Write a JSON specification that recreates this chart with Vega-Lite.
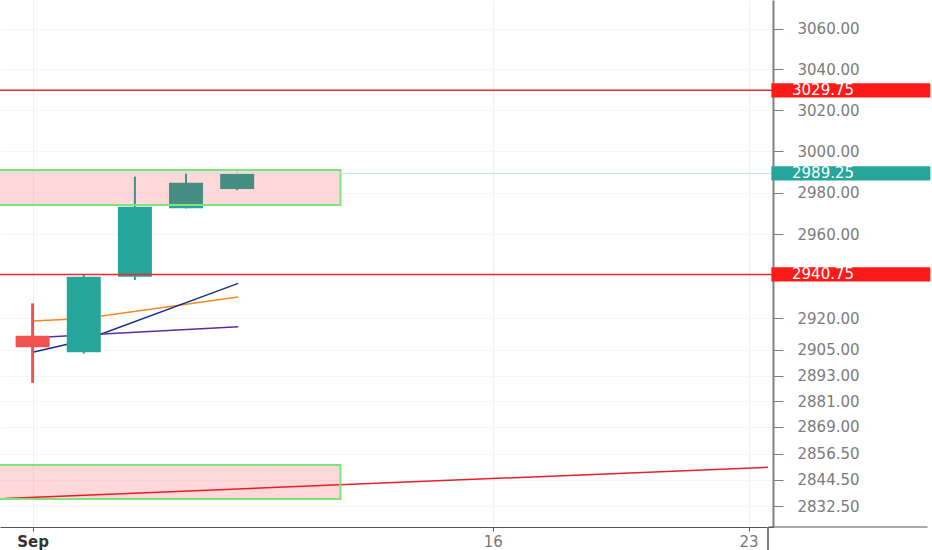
{
  "$schema": "https://vega.github.io/schema/vega-lite/v6.json",
  "width": 773,
  "height": 527,
  "autosize": {"type": "none"},
  "padding": {"left": 0, "top": 0, "right": 159, "bottom": 23},
  "background": "#ffffff",
  "config": {"view": {"stroke": null}, "font": "DejaVu Sans"},
  "resolve": {"scale": {"color": "independent", "strokeWidth": "independent"}},
  "datasets": {
    "candles": [
      {"i": 0, "open": 2911.7, "high": 2927.0, "low": 2889.6, "close": 2906.3, "dir": "down"},
      {"i": 1, "open": 2903.9, "high": 2940.5, "low": 2903.3, "close": 2939.7, "dir": "up"},
      {"i": 2, "open": 2939.7, "high": 2987.7, "low": 2938.1, "close": 2973.2, "dir": "up"},
      {"i": 3, "open": 2972.4, "high": 2989.6, "low": 2972.4, "close": 2984.8, "dir": "up"},
      {"i": 4, "open": 2981.7, "high": 2989.6, "low": 2981.2, "close": 2989.25, "dir": "up"}
    ],
    "trend": [
      {"s": "orange", "i": 0, "p": 2918.7},
      {"s": "orange", "i": 1, "p": 2919.9},
      {"s": "orange", "i": 4.02, "p": 2930.0},
      {"s": "blue", "i": 0, "p": 2903.9},
      {"s": "blue", "i": 1, "p": 2909.5},
      {"s": "blue", "i": 4.02, "p": 2936.5},
      {"s": "purple", "i": 0, "p": 2910.8},
      {"s": "purple", "i": 4.02, "p": 2916.0},
      {"s": "slope", "i": -0.54, "p": 2836.0},
      {"s": "slope", "i": 14.38, "p": 2850.3}
    ],
    "zones": [
      {"i0": -1, "i1": 6.02, "lo": 2974.0, "hi": 2990.9},
      {"i0": -1, "i1": 6.02, "lo": 2835.7, "hi": 2851.4}
    ],
    "levels": [
      {"p": 3029.75, "kind": "res", "label": "3029.75"},
      {"p": 2940.75, "kind": "res", "label": "2940.75"},
      {"p": 2989.25, "kind": "last", "label": "2989.25"}
    ]
  },
  "layer": [
    {
      "data": {"name": "trend"},
      "mark": {"type": "line", "clip": true, "strokeWidth": 1.5},
      "encoding": {
        "x": {
          "field": "i", "type": "quantitative",
          "scale": {"domain": [-0.54, 14.38], "nice": false, "zero": false},
          "axis": {
            "title": null, "orient": "bottom",
            "values": [0, 9, 14],
            "labelExpr": "datum.value == 0 ? 'Sep' : datum.value == 9 ? '16' : '23'",
            "labelFontWeight": {"condition": {"test": "datum.value == 0", "value": "bold"}, "value": "normal"},
            "labelColor": {"condition": {"test": "datum.value == 0", "value": "#333333"}, "value": "#777777"},
            "labelFontSize": 15,
            "labelPadding": 3,
            "tickSize": 4, "tickColor": "#555555",
            "domainColor": "#555555", "domainWidth": 1,
            "grid": true, "gridColor": "#f0f0f3", "gridWidth": 1,
            "labelFlush": false, "labelOverlap": false
          }
        },
        "y": {
          "field": "p", "type": "quantitative",
          "scale": {"type": "log", "domain": [2822.9, 3074.4], "nice": false},
          "axis": {
            "title": null, "orient": "right",
            "values": [2832.5, 2844.5, 2856.5, 2869, 2881, 2893, 2905, 2920, 2960, 2980, 3000, 3020, 3040, 3060],
            "format": ".2f",
            "labelFontSize": 15, "labelColor": "#7b7b7b",
            "labelPadding": 14, "tickSize": 10, "tickColor": "#808080",
            "domainColor": "#808080", "domainWidth": 2,
            "grid": true, "gridColor": "#f6f6f8", "gridWidth": 1,
            "labelOverlap": false, "labelFlush": false
          }
        },
        "detail": {"field": "s"},
        "color": {
          "field": "s", "type": "nominal", "legend": null,
          "scale": {"domain": ["orange", "blue", "purple", "slope"], "range": ["#f5891f", "#14308f", "#5b2d9e", "#e8202a"]}
        }
      }
    },
    {
      "data": {"name": "candles"},
      "mark": {"type": "rule", "clip": true},
      "encoding": {
        "x": {"field": "i", "type": "quantitative"},
        "y": {"field": "low", "type": "quantitative"},
        "y2": {"field": "high"},
        "color": {"field": "dir", "type": "nominal", "legend": null, "scale": {"domain": ["up", "down"], "range": ["#26a69a", "#ef5350"]}},
        "strokeWidth": {"field": "dir", "type": "nominal", "legend": null, "scale": {"domain": ["up", "down"], "range": [2, 3]}}
      }
    },
    {
      "data": {"name": "candles"},
      "mark": {"type": "bar", "clip": true, "width": 34},
      "encoding": {
        "x": {"field": "i", "type": "quantitative"},
        "y": {"field": "open", "type": "quantitative"},
        "y2": {"field": "close"},
        "color": {"field": "dir", "type": "nominal", "legend": null, "scale": {"domain": ["up", "down"], "range": ["#26a69a", "#ef5350"]}}
      }
    },
    {
      "data": {"name": "zones"},
      "mark": {"type": "rect", "clip": true, "fill": "#ff0000", "fillOpacity": 0.15, "stroke": "#7ee37a", "strokeWidth": 2},
      "encoding": {
        "x": {"field": "i0", "type": "quantitative"},
        "x2": {"field": "i1"},
        "y": {"field": "lo", "type": "quantitative"},
        "y2": {"field": "hi"}
      }
    },
    {
      "data": {"name": "levels"},
      "mark": {"type": "rule", "clip": true},
      "encoding": {
        "y": {"field": "p", "type": "quantitative"},
        "color": {"field": "kind", "type": "nominal", "legend": null, "scale": {"domain": ["res", "last"], "range": ["#f0282d", "#cfe2df"]}},
        "strokeWidth": {"field": "kind", "type": "nominal", "legend": null, "scale": {"domain": ["res", "last"], "range": [1.5, 1]}}
      }
    },
    {
      "data": {"name": "levels"},
      "mark": {"type": "point", "filled": true, "opacity": 1, "strokeWidth": 0, "shape": "M-1,-0.09H1V0.09H-1Z", "size": 25281, "clip": false},
      "encoding": {
        "x": {"datum": 16.0, "type": "quantitative"},
        "y": {"field": "p", "type": "quantitative"},
        "color": {"field": "kind", "type": "nominal", "legend": null, "scale": {"domain": ["res", "last"], "range": ["#ff1a1a", "#26a69a"]}}
      }
    },
    {
      "data": {"name": "levels"},
      "mark": {"type": "text", "align": "left", "baseline": "middle", "fontSize": 15, "color": "#ffffff", "clip": false},
      "encoding": {
        "x": {"datum": 14.85, "type": "quantitative"},
        "y": {"field": "p", "type": "quantitative"},
        "text": {"field": "label"}
      }
    },
    {
      "data": {"values": [{}]},
      "mark": {"type": "rule", "clip": false, "color": "#555555", "strokeWidth": 1},
      "encoding": {
        "x": {"datum": 14.38, "type": "quantitative"},
        "x2": {"datum": 17.5},
        "y": {"datum": 2822.9, "type": "quantitative"}
      }
    },
    {
      "data": {"values": [{}]},
      "mark": {"type": "rule", "clip": false, "color": "#808080", "strokeWidth": 2},
      "encoding": {
        "x": {"datum": 14.38, "type": "quantitative"},
        "y": {"datum": 2822.9, "type": "quantitative"},
        "y2": {"datum": 2812.0}
      }
    }
  ]
}
